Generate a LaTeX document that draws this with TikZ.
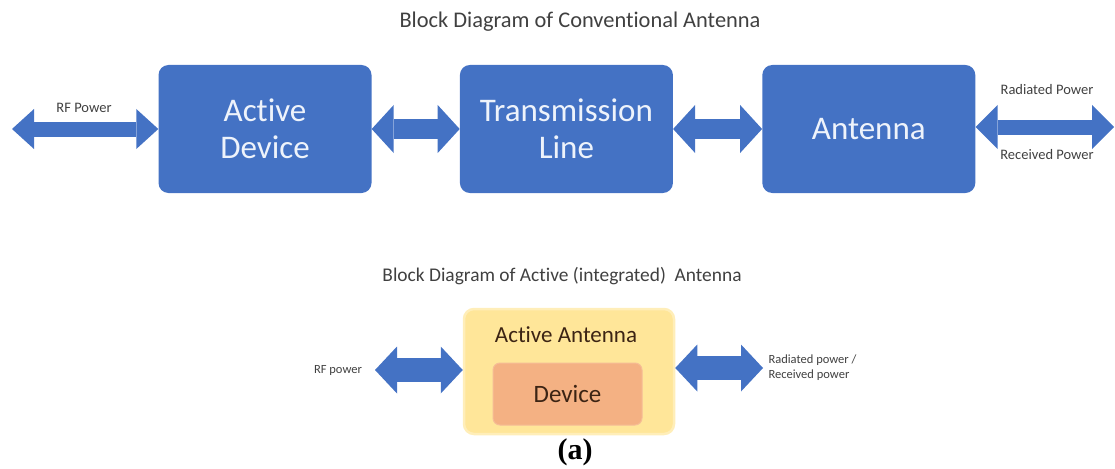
\documentclass[tikz,border=0pt]{standalone}
\usepackage{fontspec}
\setmainfont[Ligatures=NoCommon]{Carlito}
\newfontfamily\capfont{Liberation Serif}
\usepackage{xcolor}
\definecolor{BoxBlue}{RGB}{68,114,196}
\definecolor{TextWhite}{RGB}{238,243,251}
\definecolor{TitleGray}{RGB}{64,64,64}
\definecolor{FillYellow}{RGB}{255,230,153}
\definecolor{GlowYellow}{RGB}{255,238,185}
\definecolor{FillOrange}{RGB}{244,177,131}
\definecolor{TextBrown}{RGB}{60,36,20}
\usepackage{tikz}
\usetikzlibrary{arrows.meta, positioning}
\tikzset{
  % Big blue block of the conventional chain
  bbox/.style={
    rectangle, rounded corners=10pt,
    fill=BoxBlue, draw=none,
    text=TextWhite, align=center,
    minimum width=213pt, minimum height=128pt,
    inner sep=0pt,
    font=\fontsize{33}{37}\selectfont
  },
  % Integrated antenna boxes
  ybox/.style={
    rectangle, rounded corners=10pt,
    fill=FillYellow, draw=GlowYellow, line width=2.5pt,
    minimum width=210pt, minimum height=125pt, inner sep=0pt
  },
  obox/.style={
    rectangle, rounded corners=7pt,
    fill=FillOrange, draw=FillOrange!85!white, line width=1pt,
    text=TextBrown, minimum width=149pt, minimum height=62pt,
    inner sep=0pt, font=\fontsize{25}{28}\selectfont
  },
  % Fat two-headed arrows
  fat/.style 2 args={
    BoxBlue, line width=#1,
    {Triangle[width=#2,length=22pt,line width=0pt]}-{Triangle[width=#2,length=22pt,line width=0pt]}
  },
  % Text styles
  title/.style={text=TitleGray, font=\fontsize{22.4}{26}\selectfont},
  small/.style={text=TitleGray, font=\fontsize{14.5}{17}\selectfont},
  tiny/.style={text=TitleGray, font=\fontsize{12.5}{15}\selectfont, align=left},
}

\begin{document}
\begin{tikzpicture}[x=1pt, y=-1pt]

  \useasboundingbox (0,0) rectangle (1115,468);

  %% Conventional antenna
  \node[title] (ttop) at (580,22) {Block Diagram of Conventional Antenna};

  \node[bbox] (dev) at (265,129) {Active\\Device};
  \node[bbox, right=88pt of dev] (line) {Transmission\\Line};
  \node[bbox, right=89pt of line] (ant) {Antenna};

  \coordinate (rfin) at (12,129);
  \coordinate (rfout) at (1114,127);

  \draw[fat={15pt}{40pt}] (rfin) -- (dev.west);
  \draw[fat={19pt}{48pt}] (dev.east) -- (line.west);
  \draw[fat={19pt}{48pt}] (line.east) -- (ant.west);
  \draw[fat={15pt}{44pt}] (ant.east |- rfout) -- (rfout);

  \node[small] (lrf) at (84,108) {RF Power};
  \node[small] (lrad) at (1047,90) {Radiated Power};
  \node[small] (lrec) at (1047,155) {Received Power};

  %% Active (integrated) antenna
  \node[title, font=\fontsize{19.4}{23}\selectfont]
    (tbot) at (562,276) {Block Diagram of Active (integrated)\ \ Antenna};

  \node[ybox] (act) at (569,371.5) {};
  \node[text=TextBrown, font=\fontsize{23}{26}\selectfont]
    (lact) at (566,335) {Active Antenna};
  \node[obox] (chip) at (567.5,394) {Device};

  \coordinate (pin) at (375,370);
  \coordinate (pout) at (763,368);

  \draw[fat={24pt}{47pt}] (pin) -- (pin -| act.west);
  \draw[fat={24pt}{47pt}] (act.east |- pout) -- (pout);

  \node[tiny] (lpin) at (338,370) {RF power};
  \node[tiny, anchor=west] (lpout) at (765,368) {Radiated power /\\Received power};

  \node[font=\capfont\bfseries\fontsize{30}{34}\selectfont] (cap) at (575,452) {(a)};

\end{tikzpicture}
\end{document}
